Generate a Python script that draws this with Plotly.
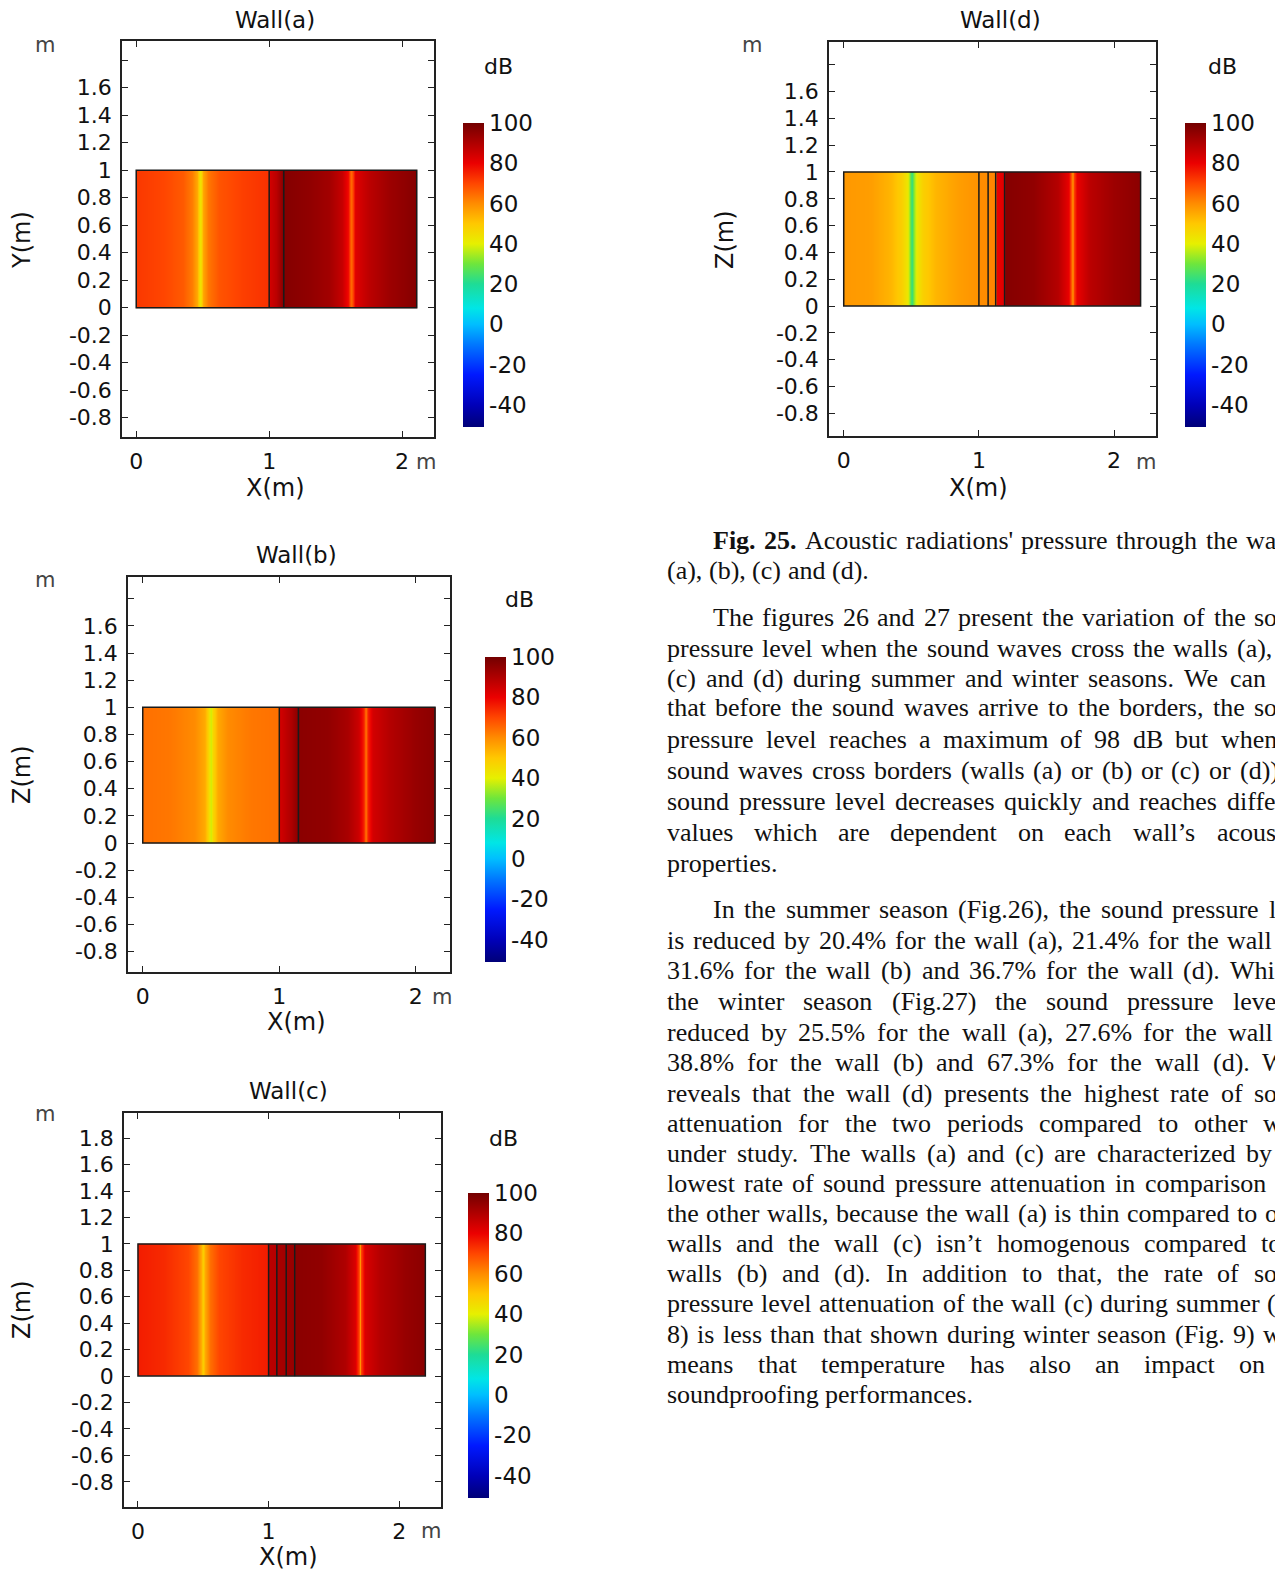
import plotly.graph_objects as go

W, H = 1275, 1573
def PX(x): return x / W
def PY(y): return 1 - y / H

# ---------------- colour scale (COMSOL "Rainbow"-like), in dB ----------------
CMIN, CMAX = -51, 100
scale_db = [-51, -40, -25, -10, 0, 8, 20, 30, 40, 50, 60, 70, 80, 90, 100]
scale_rgb = ['rgb(0,0,120)', 'rgb(0,0,185)', 'rgb(0,25,255)', 'rgb(0,120,255)',
             'rgb(0,190,255)', 'rgb(0,230,230)', 'rgb(30,220,150)', 'rgb(110,230,60)',
             'rgb(230,240,0)', 'rgb(255,200,0)', 'rgb(255,140,0)', 'rgb(255,70,0)',
             'rgb(235,0,0)', 'rgb(175,0,0)', 'rgb(115,0,0)']
colorscale = [[(d - CMIN) / (CMAX - CMIN), c] for d, c in zip(scale_db, scale_rgb)]
cbar_ticks = [-40, -20, 0, 20, 40, 60, 80, 100]
cbar_text = ['-40', '-20', '0', '20', '40', '60', '80', '100']

# ---------------- sound pressure level profiles along X (dB) ----------------
wall_a_x  = [0, 0.002, 0.2, 0.35, 0.42, 0.455, 0.472, 0.48, 0.49, 0.505, 0.54, 0.62, 0.8, 0.995,
             1.002, 1.05, 1.09, 1.106, 1.112, 1.3, 1.45, 1.55, 1.595, 1.61, 1.62, 1.63, 1.65, 1.75, 1.9, 2.108, 2.11]
wall_a_db = [72, 72, 70, 67, 62, 55, 46, 43, 46, 56, 63, 68, 71, 73,
             84, 88, 94, 98, 97, 95, 92, 86, 78, 68, 65, 72, 82, 88, 93, 97, 97]
wall_a_bounds = [0, 1.0, 1.11, 2.11]

wall_b_x  = [0, 0.002, 0.2, 0.38, 0.45, 0.485, 0.5, 0.515, 0.55, 0.62, 0.8, 0.995,
             1.002, 1.08, 1.138, 1.145, 1.35, 1.5, 1.58, 1.615, 1.63, 1.645, 1.68, 1.8, 2.0, 2.138, 2.14]
wall_b_db = [64, 64, 63, 60, 55, 46, 38, 46, 55, 60, 63, 64,
             84, 90, 97, 96, 95, 91, 85, 75, 63, 75, 84, 89, 94, 96, 96]
wall_b_bounds = [0, 1.0, 1.14, 2.14]

wall_c_x  = [0, 0.002, 0.2, 0.38, 0.45, 0.485, 0.5, 0.515, 0.55, 0.62, 0.8, 0.995,
             1.002, 1.06, 1.066, 1.13, 1.138, 1.195, 1.205, 1.4, 1.58, 1.66, 1.69, 1.70, 1.71, 1.74,
             1.85, 2.05, 2.198, 2.2]
wall_c_db = [76, 76, 74, 70, 64, 55, 48, 55, 64, 70, 74, 76,
             88, 89, 91, 92, 93, 94, 96, 95, 90, 83, 70, 57, 70, 83,
             89, 94, 96, 96]
wall_c_bounds = [0, 1.0, 1.063, 1.135, 1.2, 2.2]

wall_d_x  = [0, 0.002, 0.2, 0.35, 0.43, 0.47, 0.49, 0.505, 0.52, 0.54, 0.58, 0.68, 0.85, 0.995,
             1.002, 1.065, 1.072, 1.12, 1.128, 1.186, 1.194, 1.4, 1.58, 1.66, 1.68, 1.69, 1.70, 1.72,
             1.82, 2.0, 2.194, 2.196]
wall_d_db = [58, 58, 57, 53, 48, 42, 32, 22, 32, 42, 48, 53, 57, 59,
             60, 60, 61, 61, 80, 82, 97, 95, 89, 80, 70, 58, 70, 80,
             88, 93, 96, 96]
wall_d_bounds = [0, 1.0, 1.068, 1.124, 1.19, 2.196]

wall_y_nodes = [0.0, 0.001, 0.999, 1.0]   # profile is uniform along the wall height (0..1 m)

y_tickvals = [-0.8, -0.6, -0.4, -0.2, 0, 0.2, 0.4, 0.6, 0.8, 1, 1.2, 1.4, 1.6, 1.8]
y_text_std = ['-0.8', '-0.6', '-0.4', '-0.2', '0', '0.2', '0.4', '0.6', '0.8', '1', '1.2', '1.4', '1.6', '']
y_text_c   = ['-0.8', '-0.6', '-0.4', '-0.2', '0', '0.2', '0.4', '0.6', '0.8', '1', '1.2', '1.4', '1.6', '1.8']
x_tickvals = [0, 1, 2]
x_ticktext = ['0', '1', '2']

# panel layout (pixel boxes)
panels = [
    dict(name='Wall(a)', ylab='Y(m)', x=wall_a_x, z=wall_a_db, b=wall_a_bounds,
         box=(122, 434, 41, 437), xr=[-0.107, 2.24], yr=[-0.94, 1.94], ytext=y_text_std,
         cb=(463, 21, 123, 304), title=(275, 20), mtop=(45, 45), ylabpos=(22, 240),
         xlabpos=(275, 488), munit=(426, 462), dB=(498, 67)),
    dict(name='Wall(b)', ylab='Z(m)', x=wall_b_x, z=wall_b_db, b=wall_b_bounds,
         box=(128, 450, 577, 972), xr=[-0.108, 2.25], yr=[-0.95, 1.96], ytext=y_text_std,
         cb=(485, 21, 657, 305), title=(296, 555), mtop=(45, 580), ylabpos=(22, 775),
         xlabpos=(296, 1022), munit=(442, 997), dB=(519, 600)),
    dict(name='Wall(c)', ylab='Z(m)', x=wall_c_x, z=wall_c_db, b=wall_c_bounds,
         box=(124, 441, 1113, 1507), xr=[-0.107, 2.32], yr=[-0.99, 1.99], ytext=y_text_c,
         cb=(468, 21, 1193, 305), title=(288, 1091), mtop=(45, 1114), ylabpos=(22, 1310),
         xlabpos=(288, 1557), munit=(431, 1531), dB=(503, 1138)),
    dict(name='Wall(d)', ylab='Z(m)', x=wall_d_x, z=wall_d_db, b=wall_d_bounds,
         box=(829, 1156, 42, 436), xr=[-0.109, 2.31], yr=[-0.97, 1.97], ytext=y_text_std,
         cb=(1185, 21, 123, 304), title=(1000, 20), mtop=(752, 45), ylabpos=(725, 240),
         xlabpos=(978, 488), munit=(1146, 462), dB=(1222, 67)),
]

FONT = 'DejaVu Sans'
fig = go.Figure()
layout = dict(width=W, height=H, margin=dict(l=0, r=0, t=0, b=0),
              paper_bgcolor='white', plot_bgcolor='white', showlegend=False)
annotations = []
shapes = []

def ann(text, pos, size=22, color='#111', angle=0):
    annotations.append(dict(text=text, x=PX(pos[0]), y=PY(pos[1]), xref='paper', yref='paper',
                            xanchor='center', yanchor='middle', showarrow=False, textangle=angle,
                            font=dict(family=FONT, size=size, color=color)))

for i, p in enumerate(panels):
    k = '' if i == 0 else str(i + 1)
    xa, ya = 'x' + k, 'y' + k
    x0, x1, y0, y1 = p['box']
    cbx, cbw, cby, cbl = p['cb']
    fig.add_trace(go.Heatmap(
        x=p['x'], y=wall_y_nodes, z=[p['z']] * len(wall_y_nodes),
        zmin=CMIN, zmax=CMAX, colorscale=colorscale, zsmooth='best',
        xaxis=xa, yaxis=ya, hoverinfo='skip',
        colorbar=dict(x=PX(cbx), xanchor='left', y=PY(cby), yanchor='top',
                      lenmode='pixels', len=cbl, thickness=cbw, thicknessmode='pixels',
                      xpad=0, ypad=0, outlinewidth=0, tickvals=cbar_ticks, ticktext=cbar_text,
                      ticks='', tickfont=dict(family=FONT, size=23, color='#111'))))
    axcommon = dict(showgrid=False, zeroline=False, showline=True, linecolor='#222',
                    linewidth=1.5, ticks='inside', ticklen=6, tickcolor='#222',
                    mirror='ticks', tickfont=dict(family=FONT, size=22, color='#111'))
    layout['xaxis' + k] = dict(axcommon, domain=[PX(x0), PX(x1)], range=p['xr'],
                               anchor=ya, tickvals=x_tickvals, ticktext=x_ticktext,
                               ticklabelstandoff=4)
    layout['yaxis' + k] = dict(axcommon, domain=[PY(y1), PY(y0)], range=p['yr'],
                               anchor=xa, tickvals=y_tickvals, ticktext=p['ytext'],
                               ticklabelstandoff=4)
    bd = p['b']
    shapes.append(dict(type='rect', xref=xa, yref=ya, x0=bd[0], x1=bd[-1], y0=0, y1=1,
                       line=dict(color='#1a1a1a', width=1.5)))
    for xb in bd[1:-1]:
        shapes.append(dict(type='line', xref=xa, yref=ya, x0=xb, x1=xb, y0=0, y1=1,
                           line=dict(color='#1a1a1a', width=1.5)))
    ann(p['name'], p['title'], 23, '#111')
    ann('m', p['mtop'], 21, '#444')
    ann(p['ylab'], p['ylabpos'], 24, '#111', -90)
    ann('X(m)', p['xlabpos'], 24, '#111')
    ann('m', p['munit'], 21, '#444')
    ann('dB', p['dB'], 22, '#111')

# ---------------- body text (Times-like serif, justified) ----------------
TW = {' ': 250, '!': 333, "'": 180, '’': 333, '(': 333, ')': 333, ',': 250, '-': 333, '.': 250,
      '%': 833, ':': 278, ';': 278, '?': 444,
      'A': 722, 'B': 667, 'C': 667, 'D': 722, 'E': 611, 'F': 556, 'G': 722, 'H': 722, 'I': 333,
      'J': 389, 'K': 722, 'L': 611, 'M': 889, 'N': 722, 'O': 722, 'P': 556, 'Q': 722, 'R': 667,
      'S': 556, 'T': 611, 'U': 722, 'V': 722, 'W': 944, 'X': 722, 'Y': 722, 'Z': 611,
      'a': 444, 'b': 500, 'c': 444, 'd': 500, 'e': 444, 'f': 333, 'g': 500, 'h': 500, 'i': 278,
      'j': 278, 'k': 500, 'l': 278, 'm': 778, 'n': 500, 'o': 500, 'p': 500, 'q': 500, 'r': 333,
      's': 389, 't': 278, 'u': 500, 'v': 500, 'w': 722, 'x': 500, 'y': 500, 'z': 444}
for dgt in '0123456789':
    TW[dgt] = 500
TFS = 26
TFONT = 'Liberation Serif'
def tw(s, bold=False):
    w = sum(TW.get(c, 500) for c in s)
    if bold:
        w += 55 * s.count('F')
    return w * TFS / 1000.0

LEFT, INDENT = 667, 713
# (visible text, indented, justified, right end px, y centre px)
body_lines = [
    ("**Fig. **25. Acoustic radiations' pressure through the wa", True, True, 1276, 540),
    ("(a), (b), (c) and (d).", False, False, 0, 570),
    ("The figures 26 and 27 present the variation of the so", True, True, 1277, 617),
    ("pressure level when the sound waves cross the walls (a),", False, True, 1272, 648),
    ("(c) and (d) during summer and winter seasons. We can", False, True, 1266, 678),
    ("that before the sound waves arrive to the borders, the so", False, True, 1277, 708),
    ("pressure level reaches a maximum of 98 dB but when", False, True, 1277, 740),
    ("sound waves cross borders (walls (a) or (b) or (c) or (d)),", False, True, 1285, 770),
    ("sound pressure level decreases quickly and reaches diffe", False, True, 1276, 801),
    ("values which are dependent on each wall’s acous", False, True, 1276, 833),
    ("properties.", False, False, 0, 863),
    ("In the summer season (Fig.26), the sound pressure l", True, True, 1276, 910),
    ("is reduced by 20.4% for the wall (a), 21.4% for the wall", False, True, 1272, 940),
    ("31.6% for the wall (b) and 36.7% for the wall (d). Whi", False, True, 1275, 970),
    ("the winter season (Fig.27) the sound pressure leve", False, True, 1276, 1001),
    ("reduced by 25.5% for the wall (a), 27.6% for the wall", False, True, 1273, 1032),
    ("38.8% for the wall (b) and 67.3% for the wall (d). W", False, True, 1287, 1062),
    ("reveals that the wall (d) presents the highest rate of so", False, True, 1277, 1093),
    ("attenuation for the two periods compared to other w", False, True, 1282, 1123),
    ("under study. The walls (a) and (c) are characterized by", False, True, 1272, 1153),
    ("lowest rate of sound pressure attenuation in comparison", False, True, 1266, 1183),
    ("the other walls, because the wall (a) is thin compared to o", False, True, 1278, 1213),
    ("walls and the wall (c) isn’t homogenous compared to", False, True, 1281, 1243),
    ("walls (b) and (d). In addition to that, the rate of so", False, True, 1277, 1273),
    ("pressure level attenuation of the wall (c) during summer (", False, True, 1276, 1303),
    ("8) is less than that shown during winter season (Fig. 9) w", False, True, 1282, 1334),
    ("means that temperature has also an impact on", False, True, 1265, 1364),
    ("soundproofing performances.", False, False, 0, 1394),
]

for text, indent, justify, rend, yc in body_lines:
    x = INDENT if indent else LEFT
    words = text.replace('**Fig. **25.', '**Fig.** **25.**').split(' ')
    parsed = [(wd.strip('*'), wd.startswith('**')) for wd in words]
    widths = [tw(w, b) for w, b in parsed]
    if justify and len(parsed) > 1:
        gap = (rend - x - sum(widths)) / (len(parsed) - 1)
    else:
        gap = TW[' '] * TFS / 1000.0
    for (wd, b), wdt in zip(parsed, widths):
        annotations.append(dict(text=('<b>%s</b>' % wd) if b else wd, x=PX(x - 1), y=PY(yc),
                                xref='paper', yref='paper', xanchor='left', yanchor='middle',
                                showarrow=False, borderpad=0,
                                font=dict(family=TFONT, size=TFS, color='#111')))
        x += wdt + gap

layout['annotations'] = annotations
layout['shapes'] = shapes
fig.update_layout(**layout)
fig.write_html("out.html", config={'displayModeBar': False},
               post_script="document.body.style.margin='0';document.body.style.overflow='hidden';")
